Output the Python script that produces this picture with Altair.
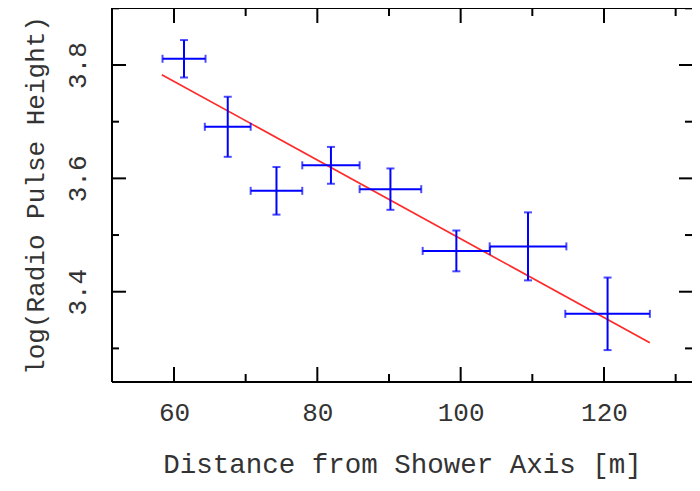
import altair as alt
import pandas as pd

# ---- data ----
dist = [61.4, 67.5, 74.3, 81.9, 90.2, 99.4, 109.4, 120.5]
dist_err = [3.0, 3.2, 3.6, 4.0, 4.3, 4.7, 5.35, 5.9]
logph = [3.811, 3.691, 3.578, 3.623, 3.581, 3.472, 3.480, 3.361]
logph_err = [0.033, 0.053, 0.042, 0.0325, 0.0365, 0.036, 0.060, 0.064]

fit_dist = [58.3, 126.4]
fit_logph = [3.783, 3.310]

x_major = [60, 80, 100, 120]
x_minor = [70, 90, 110, 130]
y_major = [3.4, 3.6, 3.8]
y_minor = [3.3, 3.5, 3.7, 3.9]

# ---- layout / style ----
W, H = 580, 374
XDOM = [51.35, 132.28]
YDOM = [3.2407, 3.9006]
FONT = "Liberation Mono"
BLUE = "#0000ff"
RED = "#ff2a2a"
TXT = "#333333"

df = pd.DataFrame({"x": dist, "xe": dist_err, "y": logph, "ye": logph_err})
df["xlo"] = df["x"] - df["xe"]
df["xhi"] = df["x"] + df["xe"]
df["ylo"] = df["y"] - df["ye"]
df["yhi"] = df["y"] + df["ye"]

hcap = pd.DataFrame({"x": list(df["xlo"]) + list(df["xhi"]), "y": list(df["y"]) * 2})
vcap = pd.DataFrame({"x": list(df["x"]) * 2, "y": list(df["ylo"]) + list(df["yhi"])})
fit = pd.DataFrame({"x": fit_dist, "y": fit_logph})

xs = alt.Scale(domain=XDOM, nice=False, zero=False)
ys = alt.Scale(domain=YDOM, nice=False, zero=False)

x_axis = alt.Axis(
    values=x_major, format="d", ticks=False, tickSize=0, domain=False, grid=False,
    labelFont=FONT, labelFontSize=26, labelColor=TXT, labelPadding=17,
    title="Distance from Shower Axis [m]", titleFont=FONT, titleFontSize=27.5,
    titleFontWeight="normal", titleColor=TXT, titleY=90, titleBaseline="alphabetic",
)
y_axis = alt.Axis(
    values=y_major, format=".1f", ticks=False, tickSize=0, domain=False, grid=False,
    labelFont=FONT, labelFontSize=26, labelColor=TXT, labelPadding=27,
    labelAngle=270, labelAlign="center", labelBaseline="alphabetic",
    title="log(Radio Pulse Height)", titleFont=FONT, titleFontSize=26,
    titleFontWeight="normal", titleColor=TXT, titleAngle=270, titleX=-77, titleY=H / 2,
    titleAlign="center", titleBaseline="middle",
)


def X(f):
    return alt.X(f, type="quantitative", scale=xs, axis=x_axis)


def Y(f):
    return alt.Y(f, type="quantitative", scale=ys, axis=y_axis)


hbar = alt.Chart(df).mark_rule(color=BLUE, strokeWidth=2).encode(x=X("xlo"), x2="xhi", y=Y("y"))
vbar = alt.Chart(df).mark_rule(color=BLUE, strokeWidth=2).encode(x=X("x"), y=Y("ylo"), y2="yhi")
hcaps = alt.Chart(hcap).mark_tick(color=BLUE, orient="vertical", size=8, thickness=2).encode(x=X("x"), y=Y("y"))
vcaps = alt.Chart(vcap).mark_tick(color=BLUE, orient="horizontal", size=8, thickness=2).encode(x=X("x"), y=Y("y"))
fitline = alt.Chart(fit).mark_line(color=RED, strokeWidth=1.7).encode(x=X("x"), y=Y("y"))


def xticks(vals, length):
    d = pd.DataFrame({"v": vals})
    bot = alt.Chart(d).mark_rule(color="black", strokeWidth=2).encode(
        x=X("v"), y=alt.value(H), y2=alt.value(H - length))
    top = alt.Chart(d).mark_rule(color="black", strokeWidth=2).encode(
        x=X("v"), y=alt.value(0), y2=alt.value(length))
    return [bot, top]


def yticks(vals, length, rlength):
    d = pd.DataFrame({"v": vals})
    left = alt.Chart(d).mark_rule(color="black", strokeWidth=2).encode(
        y=Y("v"), x=alt.value(0), x2=alt.value(length))
    right = alt.Chart(d).mark_rule(color="black", strokeWidth=2).encode(
        y=Y("v"), x=alt.value(W), x2=alt.value(W - rlength))
    return [left, right]


one = pd.DataFrame({"k": [0]})
frame = [
    alt.Chart(one).mark_rule(color="black", strokeWidth=2).encode(
        x=alt.value(0), y=alt.value(0), y2=alt.value(H)),
    alt.Chart(one).mark_rule(color="black", strokeWidth=2).encode(
        y=alt.value(0), x=alt.value(0), x2=alt.value(W)),
    alt.Chart(one).mark_rule(color="black", strokeWidth=2).encode(
        y=alt.value(H), x=alt.value(0), x2=alt.value(W)),
]

layers = (
    [fitline, hbar, vbar, hcaps, vcaps]
    + xticks(x_major, 15) + xticks(x_minor, 8)
    + yticks(y_major, 14, 13) + yticks(y_minor, 7, 7)
    + frame
)

chart = alt.layer(*layers).properties(
    width=W, height=H,
    autosize=alt.AutoSizeParams(type="none"),
    padding={"left": 104, "top": 0, "right": 0, "bottom": 100},
).configure_view(stroke=None).configure(background="white")

chart.save("out.html", embed_options={"renderer": "svg", "actions": False})
